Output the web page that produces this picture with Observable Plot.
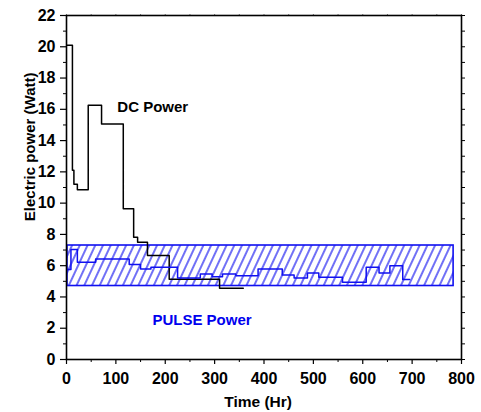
<!DOCTYPE html>
<html>
<head>
<meta charset="utf-8">
<script src="https://cdn.jsdelivr.net/npm/d3@7"></script>
<script src="https://cdn.jsdelivr.net/npm/@observablehq/plot@0.6"></script>
<style>
  html, body { margin: 0; padding: 0; background: #fff; }
  #chart svg { display: block; }
</style>
</head>
<body>
<div id="chart"></div>
<script>
// DC power step series (hours, watts)
const dcTime  = [1, 12, 15, 22, 44, 71, 115, 136, 144, 164, 208, 310, 358];
const dcPower = [20.1, 12.1, 11.2, 10.86, 16.26, 15.06, 9.64, 7.82, 7.5, 6.65, 5.13, 4.55, 4.55];

// PULSE power step series (hours, watts)
const pulseTime  = [2, 9, 22, 59, 127, 150, 171, 225, 271, 295, 316, 343, 388, 437, 461, 488, 511, 559, 607, 633, 655, 681, 695];
const pulsePower = [5.75, 7.03, 6.22, 6.43, 6.07, 5.79, 5.9, 5.22, 5.47, 5.3, 5.47, 5.36, 5.79, 5.41, 5.22, 5.54, 5.26, 4.94, 5.9, 5.54, 6.0, 5.11, 5.11];

// PULSE power band (hatched)
const bandTime  = [2, 784];
const bandPower = [4.7, 7.29];

// Tick values
const xTicks = [0, 100, 200, 300, 400, 500, 600, 700, 800];
const xMinor = [50, 150, 250, 350, 450, 550, 650, 750];
const yTicks = [0, 2, 4, 6, 8, 10, 12, 14, 16, 18, 20, 22];
const yMinor = [1, 3, 5, 7, 9, 11, 13, 15, 17, 19, 21];

// Labels
const seriesLabels = [
  {name: "DC Power", t: 103, p: 16.15, color: "#000000"},
  {name: "PULSE Power", t: 174, p: 2.53, color: "#0000ee"}
];
const axisLabels = [
  {name: "Time (Hr)", t: 388, p: -2.75, rot: 0, size: 15.5},
  {name: "Electric power (Watt)", t: -74, p: 13.6, rot: -90, size: 15}
];

const dcData = dcTime.map((t, i) => ({t, p: dcPower[i]}));
const pulseData = pulseTime.map((t, i) => ({t, p: pulsePower[i]}));
const band = [{x1: bandTime[0], x2: bandTime[1], y1: bandPower[0], y2: bandPower[1]}];

const blue = "#1010f0";
const empty = () => "";

const chart = Plot.plot({
  width: 481,
  height: 412,
  marginLeft: 66,
  marginRight: 20,
  marginTop: 15,
  marginBottom: 53,
  style: {fontFamily: "'Liberation Sans', Arial, sans-serif", background: "#fff", color: "#000"},
  x: {domain: [0, 800]},
  y: {domain: [0, 22]},
  marks: [
    Plot.rect(band, {x1: "x1", x2: "x2", y1: "y1", y2: "y2", fill: "url(#hatch)", stroke: blue, strokeWidth: 1.6}),
    Plot.line(dcData, {x: "t", y: "p", curve: "step-after", stroke: "#000", strokeWidth: 1.5}),
    Plot.line(pulseData, {x: "t", y: "p", curve: "step-after", stroke: blue, strokeWidth: 1.5}),
    Plot.text(seriesLabels, {x: "t", y: "p", text: "name", fill: "color", textAnchor: "start", lineAnchor: "middle", fontSize: 15, fontWeight: "bold"}),
    // axes
    Plot.axisX({ticks: xTicks, tickSize: 5, tickPadding: 8, fontSize: 16, fontWeight: "bold", label: null, strokeWidth: 1.2}),
    Plot.axisX({ticks: xMinor, tickSize: 3, tickFormat: empty, label: null}),
    Plot.axisX({anchor: "top", ticks: xTicks.concat(xMinor), tickSize: 2, tickFormat: empty, label: null, strokeOpacity: 0.5}),
    Plot.axisY({ticks: yTicks, tickSize: 6, tickPadding: 5, fontSize: 16, fontWeight: "bold", label: null, strokeWidth: 1.2}),
    Plot.axisY({ticks: yMinor, tickSize: 3, tickFormat: empty, label: null}),
    Plot.axisY({anchor: "right", ticks: yTicks.concat(yMinor), tickSize: 3, tickFormat: empty, label: null}),
    Plot.frame({stroke: "#000", strokeWidth: 1.6}),
    Plot.text(axisLabels, {x: "t", y: "p", text: "name", rotate: "rot", fontSize: "size", textAnchor: "middle", lineAnchor: "middle", fontWeight: "bold"})
  ]
});

// hatch pattern definition
const ns = "http://www.w3.org/2000/svg";
const defs = document.createElementNS(ns, "defs");
const pat = document.createElementNS(ns, "pattern");
pat.setAttribute("id", "hatch");
pat.setAttribute("patternUnits", "userSpaceOnUse");
pat.setAttribute("width", "7");
pat.setAttribute("height", "7");
pat.setAttribute("patternTransform", "rotate(25)");
const ln = document.createElementNS(ns, "line");
ln.setAttribute("x1", "1"); ln.setAttribute("y1", "0");
ln.setAttribute("x2", "1"); ln.setAttribute("y2", "7");
ln.setAttribute("stroke", blue);
ln.setAttribute("stroke-width", "1.2");
pat.appendChild(ln);
defs.appendChild(pat);
chart.insertBefore(defs, chart.firstChild);

document.getElementById("chart").appendChild(chart);
</script>
</body>
</html>
